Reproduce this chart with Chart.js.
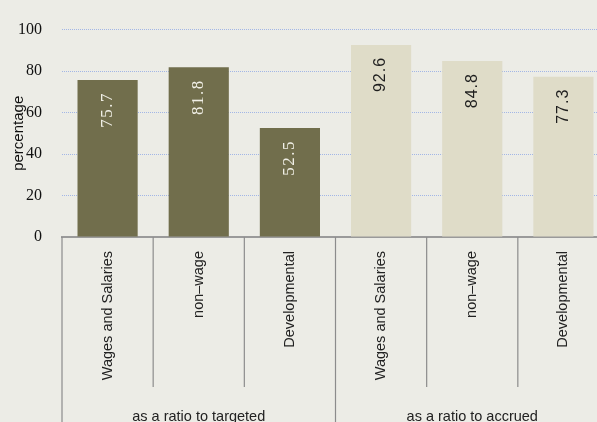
<!DOCTYPE html>
<html>
<head>
<meta charset="utf-8">
<script src="https://cdn.jsdelivr.net/npm/chart.js@4"></script>
<style>
    body { margin: 0; background: #ecece6; overflow: hidden; }
    #wrap { width: 609px; height: 422px; }
</style>
</head>
<body>
<div id="wrap"><canvas id="myChart" width="609" height="422"></canvas></div>
<script>
var groups = ['as a ratio to targeted', 'as a ratio to accrued'];
var items = ['Wages and Salaries', 'non\u2013wage', 'Developmental'];
var targeted = [75.7, 81.8, 52.5];
var accrued = [92.6, 84.8, 77.3];
var yTicks = [0, 20, 40, 60, 80, 100];

var darkColor = '#716e4c';
var lightColor = '#dfdcc8';

var xValues = items.concat(items);
var yValues = targeted.concat(accrued);
var barColors = [];
for (var i = 0; i < yValues.length; i++) {
    barColors.push(i < targeted.length ? darkColor : lightColor);
}

// canvas background
var bgPlugin = {
    id: 'bg',
    beforeDraw: function (chart) {
        var ctx = chart.ctx;
        ctx.save();
        ctx.fillStyle = '#ecece6';
        ctx.fillRect(0, 0, chart.width, chart.height);
        ctx.restore();
    }
};

// rotated value text inside each bar
var valuePlugin = {
    id: 'values',
    afterDatasetsDraw: function (chart) {
        var ctx = chart.ctx;
        var meta = chart.getDatasetMeta(0);
        ctx.save();
        meta.data.forEach(function (bar, i) {
            var dark = i < targeted.length;
            ctx.save();
            ctx.translate(bar.x, bar.y + 12);
            ctx.rotate(-Math.PI / 2);
            ctx.textAlign = 'right';
            ctx.textBaseline = 'middle';
            if (dark) {
                ctx.font = '17px "Liberation Serif", serif';
                ctx.fillStyle = '#f0efe6';
                ctx.letterSpacing = '1.5px';
            } else {
                ctx.font = '16px "Liberation Sans", Arial, sans-serif';
                ctx.fillStyle = '#1e1e1e';
                ctx.letterSpacing = '1px';
            }
            ctx.fillText(String(yValues[i]), 0, 0);
            ctx.restore();
        });
        ctx.restore();
    }
};

// label boxes below the axis: separators and group names
var groupPlugin = {
    id: 'groups',
    afterDraw: function (chart) {
        var ctx = chart.ctx;
        var x = chart.scales.x;
        var half = (x.getPixelForValue(1) - x.getPixelForValue(0)) / 2;
        var top = x.top;
        ctx.save();
        ctx.strokeStyle = '#8c8c8c';
        ctx.lineWidth = 1.2;
        for (var i = 0; i <= xValues.length; i++) {
            var px = x.getPixelForValue(0) - half + i * half * 2;
            var outer = i % items.length === 0;
            ctx.beginPath();
            ctx.moveTo(px, top);
            ctx.lineTo(px, outer ? chart.height : top + 150);
            ctx.stroke();
        }
        ctx.fillStyle = '#222';
        ctx.font = '14.5px "Liberation Sans", Arial, sans-serif';
        ctx.textAlign = 'center';
        ctx.textBaseline = 'alphabetic';
        groups.forEach(function (g, k) {
            var a = x.getPixelForValue(k * items.length) - half;
            var b = x.getPixelForValue((k + 1) * items.length - 1) + half;
            ctx.fillText(g, (a + b) / 2, chart.height - 1);
        });
        ctx.restore();
    }
};

new Chart('myChart', {
    type: 'bar',
    data: {
        labels: xValues,
        datasets: [{
            backgroundColor: barColors,
            data: yValues,
            categoryPercentage: 1,
            barPercentage: 0.66
        }]
    },
    plugins: [bgPlugin, valuePlugin, groupPlugin],
    options: {
        responsive: false,
        animation: false,
        layout: { padding: { top: 26, right: 0, bottom: 0, left: 0 } },
        plugins: {
            legend: { display: false },
            tooltip: { enabled: false }
        },
        scales: {
            x: {
                grid: { display: false, drawTicks: false },
                border: { display: true, color: '#9a9a9a', width: 2 },
                ticks: {
                    minRotation: 90,
                    maxRotation: 90,
                    autoSkip: false,
                    padding: 14,
                    color: '#222',
                    font: { family: '"Liberation Sans", Arial, sans-serif', size: 14.5 }
                },
                afterFit: function (scale) { scale.height = 185; }
            },
            y: {
                min: 0,
                max: 100,
                afterBuildTicks: function (scale) {
                    scale.ticks = yTicks.map(function (v) { return { value: v }; });
                },
                grid: { color: '#a2b6e6', lineWidth: 1, drawTicks: false },
                border: { display: false, dash: [1, 1] },
                ticks: {
                    padding: 20,
                    color: '#111',
                    font: { family: '"Liberation Serif", serif', size: 16 }
                },
                title: {
                    display: true,
                    text: 'percentage',
                    color: '#111',
                    padding: { top: 10, bottom: 0 },
                    font: { family: '"Liberation Sans", Arial, sans-serif', size: 15 }
                },
                afterFit: function (scale) { scale.width = 62; }
            }
        }
    }
});
</script>
</body>
</html>
